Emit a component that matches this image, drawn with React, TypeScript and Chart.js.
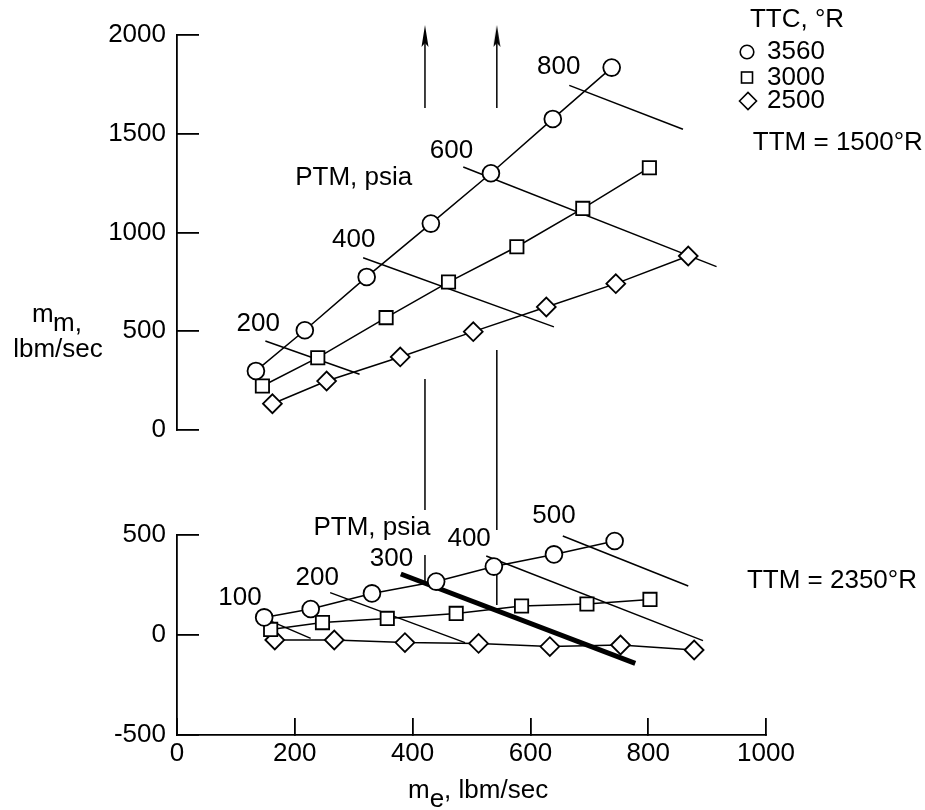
import React, { useEffect, useRef } from 'react';
import { Chart, registerables } from 'chart.js';

Chart.register(...registerables);

const FONT_FAMILY = '"Liberation Sans", Arial, Helvetica, sans-serif';
const FONT_SIZE = 26;

// ---- axes ----
const xTicks = [0, 200, 400, 600, 800, 1000];
const yTopTicks = [0, 500, 1000, 1500, 2000];
const yBotTicks = [-500, 0, 500];

// ---- upper panel (TTM = 1500 °R) ----
const topC3560X = [134, 217, 322, 431, 533, 638, 738];
const topC3560Y = [299, 505, 775, 1045, 1300, 1575, 1835];
const topS3000X = [145, 239, 355, 461, 577, 689, 802];
const topS3000Y = [223, 366, 569, 749, 928, 1122, 1328];
const topD2500X = [162, 254, 379, 503, 627, 745, 868];
const topD2500Y = [133, 248, 370, 498, 623, 741, 881];

// constant-PTM lines, upper panel
const topPtmLabels = ['200', '400', '600', '800'];
const topPtmX = [[150, 310], [316, 640], [486, 916], [666, 859]];
const topPtmY = [[451, 282], [872, 522], [1332, 827], [1745, 1523]];
const topPtmLabelX = [138, 300, 466, 648];
const topPtmLabelY = [537, 962, 1413, 1838];

// ---- lower panel (TTM = 2350 °R) ----
const botC3560X = [148, 227, 331, 440, 538, 640, 743];
const botC3560Y = [88, 130, 208, 267, 342, 403, 470];
const botS3000X = [159, 247, 357, 474, 585, 696, 803];
const botS3000Y = [28, 62, 83, 108, 145, 155, 178];
const botD2500X = [166, 267, 387, 512, 633, 753, 878];
const botD2500Y = [-25, -25, -38, -42, -58, -50, -75];

// constant-PTM lines, lower panel
const botPtmLabels = ['100', '200', '300', '400', '500'];
const botPtmX = [[161, 227], [260, 489], [380, 778], [525, 893], [655, 868]];
const botPtmY = [[67, -17], [212, -38], [305, -142], [395, -28], [495, 245]];
const botPtmWidth = [1.5, 1.5, 5, 1.5, 1.5];
const botPtmLabelX = [107, 238, 364, 496, 640];
const botPtmLabelY = [185, 285, 380, 480, 595];

// vertical guide lines (x in me units)
const guideX = [421, 543];
const arrowFromY = [1630, 1630];
const arrowHeadY = [1995, 1995];
const gapFromY = [258, 405];
const gapToY = [-405, -506];
const botGuideFromY = [400, 330];
const botGuideToY = [267, 150];

// ---- texts ----
const legendTitle = 'TTC, °R';
const legendLabels = ['3560', '3000', '2500'];
const ptmTitle = 'PTM, psia';
const topPtmTitlePos = [300, 1276];
const botPtmTitlePos = [331, 537];
const ttmTop = 'TTM = 1500°R';
const ttmTopPos = [1122, 1453];
const ttmBot = 'TTM = 2350°R';
const ttmBotPos = [1112, 270];

const zip = (xs: number[], ys: number[]) => xs.map((x, i) => ({ x, y: ys[i] }));

function series(xs: number[], ys: number[], yAxisID: string, style: string, radius: number) {
  return {
    data: zip(xs, ys),
    yAxisID,
    xAxisID: 'x',
    showLine: true,
    clip: false,
    borderColor: '#000',
    borderWidth: 1.5,
    pointStyle: style,
    pointRadius: radius,
    pointHoverRadius: radius,
    pointBorderWidth: 1.8,
    pointBorderColor: '#000',
    pointBackgroundColor: '#fff',
  };
}

function seg(xs: number[], ys: number[], yAxisID: string, width = 1.5) {
  return {
    data: zip(xs, ys),
    yAxisID,
    xAxisID: 'x',
    showLine: true,
    clip: false,
    borderColor: '#000',
    borderWidth: width,
    pointRadius: 0,
    pointHoverRadius: 0,
  };
}

function makeArrowHead() {
  const c = document.createElement('canvas');
  c.width = 8;
  c.height = 22;
  const g = c.getContext('2d')!;
  g.fillStyle = '#000';
  g.beginPath();
  g.moveTo(4, 0);
  g.lineTo(7.5, 22);
  g.lineTo(4, 18);
  g.lineTo(0.5, 22);
  g.closePath();
  g.fill();
  return c;
}

const annotationPlugin = {
  id: 'annotations',
  afterDraw(chart: any) {
    const ctx = chart.ctx as CanvasRenderingContext2D;
    const sx = chart.scales.x;
    const st = chart.scales.yTop;
    const sb = chart.scales.yBot;
    ctx.save();
    ctx.fillStyle = '#000';
    ctx.strokeStyle = '#000';
    ctx.font = `${FONT_SIZE}px ${FONT_FAMILY}`;
    ctx.textBaseline = 'middle';
    ctx.textAlign = 'center';

    // PTM labels
    topPtmLabels.forEach((t, i) => {
      ctx.fillText(t, sx.getPixelForValue(topPtmLabelX[i]), st.getPixelForValue(topPtmLabelY[i]));
    });
    botPtmLabels.forEach((t, i) => {
      ctx.fillText(t, sx.getPixelForValue(botPtmLabelX[i]), sb.getPixelForValue(botPtmLabelY[i]));
    });
    ctx.fillText(ptmTitle, sx.getPixelForValue(topPtmTitlePos[0]), st.getPixelForValue(topPtmTitlePos[1]));
    ctx.fillText(ptmTitle, sx.getPixelForValue(botPtmTitlePos[0]), sb.getPixelForValue(botPtmTitlePos[1]));
    ctx.fillText(ttmTop, sx.getPixelForValue(ttmTopPos[0]), st.getPixelForValue(ttmTopPos[1]));
    ctx.fillText(ttmBot, sx.getPixelForValue(ttmBotPos[0]), sb.getPixelForValue(ttmBotPos[1]));

    // legend
    ctx.fillText(legendTitle, 797, 20);
    const ly = [52, 77.5, 101];
    ctx.lineWidth = 1.6;
    ctx.beginPath();
    ctx.arc(747, ly[0], 6.8, 0, Math.PI * 2);
    ctx.stroke();
    ctx.strokeRect(741.5, ly[1] - 5.5, 11, 11);
    ctx.beginPath();
    ctx.moveTo(748 - 8.5, ly[2]);
    ctx.lineTo(748, ly[2] - 8.5);
    ctx.lineTo(748 + 8.5, ly[2]);
    ctx.lineTo(748, ly[2] + 8.5);
    ctx.closePath();
    ctx.stroke();
    ctx.textAlign = 'left';
    legendLabels.forEach((t, i) => ctx.fillText(t, 767, ly[i]));

    // y-axis title: m_m, lbm/sec
    ctx.textBaseline = 'alphabetic';
    ctx.textAlign = 'left';
    ctx.fillText('m', 32, 322);
    ctx.fillText('m,', 53, 331);
    ctx.textAlign = 'center';
    ctx.fillText('lbm/sec', 58, 357);

    // x-axis title: m_e, lbm/sec
    ctx.textAlign = 'left';
    const x0 = 408;
    ctx.fillText('m', x0, 798);
    const wm = ctx.measureText('m').width;
    ctx.fillText('e', x0 + wm, 807);
    const we = ctx.measureText('e').width;
    ctx.fillText(', lbm/sec', x0 + wm + we, 798);
    ctx.restore();
  },
};

export default function App() {
  const ref = useRef<HTMLCanvasElement>(null);

  useEffect(() => {
    const arrow = makeArrowHead();
    const font = { family: FONT_FAMILY, size: FONT_SIZE };
    const axisCommon = (tickLen: number, pad: number) => ({
      ticks: { font, color: '#000', padding: pad, autoSkip: false, maxRotation: 0, callback: (v: any) => String(v) },
      grid: { display: true, drawOnChartArea: false, drawTicks: true, tickLength: tickLen, color: '#000', lineWidth: 1.8 },
      border: { display: true, color: '#000', width: 1.8 },
    });
    const fixY = (s: any) => { s.width = 177; s.paddingTop = 0; s.paddingBottom = 0; };

    const datasets: any[] = [
      series(topC3560X, topC3560Y, 'yTop', 'circle', 8.4),
      series(topS3000X, topS3000Y, 'yTop', 'rect', 9.4),
      series(topD2500X, topD2500Y, 'yTop', 'rectRot', 9.4),
      series(botC3560X, botC3560Y, 'yBot', 'circle', 8.4),
      series(botS3000X, botS3000Y, 'yBot', 'rect', 9.4),
      series(botD2500X, botD2500Y, 'yBot', 'rectRot', 9.4),
    ];
    topPtmX.forEach((xs, i) => datasets.push(seg(xs, topPtmY[i], 'yTop')));
    botPtmX.forEach((xs, i) => datasets.push(seg(xs, botPtmY[i], 'yBot', botPtmWidth[i])));
    guideX.forEach((gx, i) => {
      datasets.push(seg([gx, gx], [arrowFromY[i], arrowHeadY[i] - 5], 'yTop'));
      datasets.push(seg([gx, gx], [gapFromY[i], gapToY[i]], 'yTop'));
      datasets.push(seg([gx, gx], [botGuideFromY[i], botGuideToY[i]], 'yBot'));
    });
    datasets.push({
      data: zip(guideX, arrowHeadY),
      yAxisID: 'yTop',
      xAxisID: 'x',
      showLine: false,
      pointStyle: arrow,
      pointRadius: 10,
      pointHoverRadius: 10,
      clip: false,
    });

    const chart = new Chart(ref.current!, {
      type: 'scatter',
      data: { datasets },
      options: {
        responsive: false,
        animation: false,
        events: [],
        layout: { padding: { top: 35, right: 159, left: 0, bottom: 0 } },
        plugins: { legend: { display: false }, tooltip: { enabled: false }, title: { display: false } },
        scales: {
          x: {
            type: 'linear',
            position: 'bottom',
            min: 0,
            max: 1000,
            afterBuildTicks: (s: any) => { s.ticks = xTicks.map((v) => ({ value: v })); },
            afterFit: (s: any) => { s.height = 75; s.paddingLeft = 0; s.paddingRight = 0; },
            ...axisCommon(-17, 20),
          },
          yTop: {
            type: 'linear',
            position: 'left',
            stack: 'left',
            stackWeight: 395,
            weight: 3,
            min: 0,
            max: 2000,
            afterBuildTicks: (s: any) => { s.ticks = yTopTicks.map((v) => ({ value: v })); },
            afterFit: fixY,
            ...axisCommon(-22, 33),
          },
          yGap: {
            type: 'linear',
            position: 'left',
            stack: 'left',
            stackWeight: 105,
            weight: 2,
            min: 0,
            max: 1,
            display: true,
            ticks: { display: false },
            grid: { display: false },
            border: { display: false },
            afterFit: fixY,
          },
          yBot: {
            type: 'linear',
            position: 'left',
            stack: 'left',
            stackWeight: 200,
            weight: 1,
            min: -500,
            max: 500,
            afterBuildTicks: (s: any) => { s.ticks = yBotTicks.map((v) => ({ value: v })); },
            afterFit: fixY,
            ...axisCommon(-22, 33),
          },
        },
      } as any,
      plugins: [annotationPlugin],
    });
    return () => chart.destroy();
  }, []);

  return (
    <div style={{ position: 'absolute', left: 0, top: 0, width: 925, height: 810, background: '#fff' }}>
      <canvas ref={ref} width={925} height={810} style={{ display: 'block' }} />
    </div>
  );
}
